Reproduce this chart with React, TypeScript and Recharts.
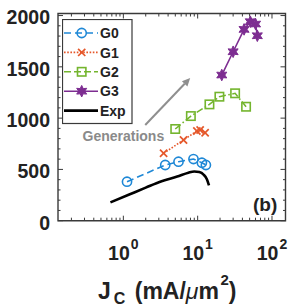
import React from 'react';
import {
  ComposedChart,
  Line,
  XAxis,
  YAxis,
  ReferenceArea,
  ReferenceLine,
  ReferenceDot,
  Legend,
} from 'recharts';

// ---------- data ----------
const G0_X = [1.12, 3.66, 5.52, 8.78, 11.4, 12.9];
const G0_Y = [380, 543, 575, 601, 565, 543];
const G1_X = [3.48, 6.45, 9.75, 10.8, 12.6];
const G1_Y = [657, 787, 874, 884, 858];
const G2_X = [4.99, 8.1, 14.4, 19.6, 31.9, 44.8];
const G2_Y = [894, 1020, 1134, 1209, 1242, 1111];
const G3_X = [21.1, 30.0, 42.1, 51.1, 60.1, 63.5];
const G3_Y = [1420, 1647, 1865, 1940, 1917, 1803];
const EXP_X = [0.67, 1.2, 2.0, 3.2, 5.3, 7.5, 9.0, 10.5, 12.0, 13.3, 14.2];
const EXP_Y = [179, 255, 322, 382, 430, 468, 480, 474, 450, 405, 345];

const SERIES_NAMES = ['G0', 'G1', 'G2', 'G3', 'Exp'];
const X_MAJOR = [1, 10, 100];
const X_MAJOR_EXP = ['0', '1', '2'];
const X_MINOR = [0.2, 0.3, 0.4, 0.5, 0.6, 0.7, 0.8, 0.9, 2, 3, 4, 5, 6, 7, 8, 9, 20, 30, 40, 50, 60, 70, 80, 90];
const Y_TICKS = [0, 100, 200, 300, 400, 500, 600, 700, 800, 900, 1000, 1100, 1200, 1300, 1400, 1500, 1600, 1700, 1800, 1900, 2000];
const Y_LABELED = [0, 500, 1000, 1500, 2000];
const X_DOMAIN: [number, number] = [0.132, 152];
const Y_DOMAIN: [number, number] = [0, 2020];

const ARROW_START = { x: 1.97, y: 933 };
const ARROW_END = { x: 7.93, y: 1391 };
const GEN_LABEL = { x: 1.0, y: 826, text: 'Generations' };
const PANEL_LABEL = '(b)';

const toPts = (xs: number[], ys: number[]) => xs.map((x, i) => ({ x, y: ys[i] }));
const g0 = toPts(G0_X, G0_Y);
const g1 = toPts(G1_X, G1_Y);
const g2 = toPts(G2_X, G2_Y);
const g3 = toPts(G3_X, G3_Y);
const exp = toPts(EXP_X, EXP_Y);

// ---------- layout ----------
const W = 291;
const H = 306;
const PLOT_LEFT = 58;
const PLOT_RIGHT = 285.5;
const PLOT_TOP = 13.5;
const PLOT_BOTTOM = 220.7;
const FONT = '"Liberation Sans", Arial, Helvetica, sans-serif';

const BLUE = '#1f88d6';
const ORANGE = '#e5572a';
const GREEN = '#74b52e';
const PURPLE = '#7d2d91';
const FRAME = '#3a3a3a';
const TEXT = '#222';

// ---------- markers ----------
const circleM = (cx: number, cy: number, key?: any) => (
  <circle key={key} cx={cx} cy={cy} r={4.6} fill="none" stroke={BLUE} strokeWidth={1.6} />
);
const crossM = (cx: number, cy: number, key?: any) => (
  <g key={key} stroke={ORANGE} strokeWidth={1.7}>
    <line x1={cx - 3.6} y1={cy - 3.6} x2={cx + 3.6} y2={cy + 3.6} />
    <line x1={cx - 3.6} y1={cy + 3.6} x2={cx + 3.6} y2={cy - 3.6} />
  </g>
);
const squareM = (cx: number, cy: number, key?: any) => (
  <rect key={key} x={cx - 4.2} y={cy - 4.2} width={8.4} height={8.4} fill="none" stroke={GREEN} strokeWidth={1.6} />
);
const starM = (cx: number, cy: number, key?: any) => {
  const pts: string[] = [];
  for (let i = 0; i < 12; i++) {
    const r = i % 2 === 0 ? 5.8 : 3.0;
    const a = (Math.PI / 6) * i - Math.PI / 2;
    pts.push(`${cx + r * Math.cos(a)},${cy + r * Math.sin(a)}`);
  }
  return <polygon key={key} points={pts.join(' ')} fill={PURPLE} stroke={PURPLE} strokeWidth={1} />;
};

const dotFn = (m: (cx: number, cy: number, key?: any) => React.ReactElement) => (p: any) => {
  if (p.cx == null || p.cy == null) return <g key={p.index} />;
  return m(p.cx, p.cy, `d-${p.index}`);
};

// ---------- ticks ----------
const XTick = (p: any) => {
  const v = p.payload?.value;
  const x = p.x;
  const mi = X_MAJOR.indexOf(v);
  const major = mi >= 0;
  const len = major ? 5 : 3;
  return (
    <g>
      <line x1={x} x2={x} y1={PLOT_BOTTOM} y2={PLOT_BOTTOM - len} stroke={FRAME} strokeWidth={1} />
      <line x1={x} x2={x} y1={PLOT_TOP} y2={PLOT_TOP + len} stroke={FRAME} strokeWidth={1} />
      {major && (
        <text x={x} y={259.5} textAnchor="middle" fontFamily={FONT} fontWeight="bold" fill={TEXT} fontSize={19.5}>
          <tspan>10</tspan>
          <tspan fontSize={14} dy={-10.5} dx={1}>{X_MAJOR_EXP[mi]}</tspan>
        </text>
      )}
    </g>
  );
};

const YTick = (p: any) => {
  const v = p.payload?.value;
  const y = p.y;
  const major = Y_LABELED.includes(v);
  const len = major ? 5 : 2.5;
  return (
    <g>
      <line x1={PLOT_LEFT} x2={PLOT_LEFT + len} y1={y} y2={y} stroke={FRAME} strokeWidth={1} />
      <line x1={PLOT_RIGHT} x2={PLOT_RIGHT - len} y1={y} y2={y} stroke={FRAME} strokeWidth={1} />
      {major && (
        <text x={PLOT_LEFT - 8} y={y + 8.8} textAnchor="end" fontFamily={FONT} fontWeight="bold" fill={TEXT} fontSize={19.5}>
          {v}
        </text>
      )}
    </g>
  );
};

const XLabel = () => (
  <text x={98} y={298.5} fontFamily={FONT} fontWeight="bold" fill={TEXT} fontSize={23}>
    <tspan>J</tspan>
    <tspan fontSize={16} dx={3} dy={5}>C</tspan>
    <tspan dx={3} dy={-5}> (mA/</tspan>
    <tspan fontStyle="italic" fontWeight="normal">μ</tspan>
    <tspan>m</tspan>
    <tspan fontSize={15} dx={1.5} dy={-14}>2</tspan>
    <tspan dy={14}>)</tspan>
  </text>
);

// ---------- legend ----------
const LEGEND_ITEMS = [
  { name: SERIES_NAMES[0], color: BLUE, dash: '7 4', marker: circleM, w: 1.6 },
  { name: SERIES_NAMES[1], color: ORANGE, dash: '1.6 1.6', marker: crossM, w: 1.6 },
  { name: SERIES_NAMES[2], color: GREEN, dash: '7 3', marker: squareM, w: 1.6 },
  { name: SERIES_NAMES[3], color: PURPLE, dash: undefined, marker: starM, w: 1.6 },
  { name: SERIES_NAMES[4], color: '#000', dash: undefined, marker: null, w: 2.6 },
];

const renderLegend = () => (
  <svg width={71} height={106} style={{ display: 'block' }}>
    <rect x={0.5} y={0.5} width={69.5} height={104} fill="#fff" stroke={FRAME} strokeWidth={1.2} />
    {LEGEND_ITEMS.map((it, i) => {
      const cy = 14 + i * 19.4;
      return (
        <g key={it.name}>
          <line x1={2} x2={36} y1={cy} y2={cy} stroke={it.color} strokeWidth={it.w} strokeDasharray={it.dash} />
          {it.marker && it.marker(19.7, cy)}
          <text x={38} y={cy + 5.2} fontFamily={FONT} fontWeight="bold" fontSize={14} fill={TEXT}>
            {it.name}
          </text>
        </g>
      );
    })}
  </svg>
);

// ---------- arrow ----------
const ArrowShape = (p: any) => {
  const { x1, y1, x2, y2 } = p;
  if ([x1, y1, x2, y2].some((v) => v == null || isNaN(v))) return <g />;
  const ang = Math.atan2(y2 - y1, x2 - x1);
  const hl = 8;
  const hw = 3.8;
  const bx = x2 - hl * Math.cos(ang);
  const by = y2 - hl * Math.sin(ang);
  const px = -Math.sin(ang);
  const py = Math.cos(ang);
  return (
    <g>
      <line x1={x1} y1={y1} x2={bx} y2={by} stroke="#8f8f8f" strokeWidth={2} />
      <polygon
        points={`${x2},${y2} ${bx + hw * px},${by + hw * py} ${bx - hw * px},${by - hw * py}`}
        fill="#8f8f8f"
      />
    </g>
  );
};

const GenText = (p: any) => (
  <text x={p.cx} y={p.cy + 5} textAnchor="middle" fontFamily={FONT} fontWeight="bold" fontSize={14} fill="#8a8a8a">
    {GEN_LABEL.text}
  </text>
);

export default function App() {
  return (
    <div style={{ position: 'absolute', left: 0, top: 0, width: W, height: H, background: '#fff' }}>
      <ComposedChart
        width={W}
        height={H}
        margin={{ top: PLOT_TOP, right: W - PLOT_RIGHT, left: 0, bottom: 0 }}
      >
        <XAxis
          dataKey="x"
          type="number"
          scale="log"
          domain={X_DOMAIN}
          allowDataOverflow
          ticks={[...X_MAJOR, ...X_MINOR]}
          interval={0}
          height={H - PLOT_BOTTOM}
          tickSize={0}
          tickMargin={0}
          axisLine={false}
          tickLine={false}
          tick={<XTick />}
          label={<XLabel />}
        />
        <YAxis
          dataKey="y"
          type="number"
          domain={Y_DOMAIN}
          allowDataOverflow
          ticks={Y_TICKS}
          interval={0}
          width={PLOT_LEFT}
          tickSize={0}
          tickMargin={0}
          axisLine={false}
          tickLine={false}
          tick={<YTick />}
        />
        <ReferenceArea
          x1={X_DOMAIN[0]}
          x2={X_DOMAIN[1]}
          y1={Y_DOMAIN[0]}
          y2={Y_DOMAIN[1]}
          fill="none"
          fillOpacity={0}
          stroke={FRAME}
          strokeWidth={1.4}
          ifOverflow="extendDomain"
        />
        <ReferenceLine segment={[ARROW_START, ARROW_END]} shape={<ArrowShape />} ifOverflow="visible" />
        <ReferenceDot x={GEN_LABEL.x} y={GEN_LABEL.y} r={0} shape={<GenText />} ifOverflow="visible" />
        <Line
          data={exp}
          dataKey="y"
          name="Exp"
          type="monotone"
          stroke="#000"
          strokeWidth={2.6}
          dot={false}
          isAnimationActive={false}
        />
        <Line
          data={g0}
          dataKey="y"
          name="G0"
          type="linear"
          stroke={BLUE}
          strokeWidth={1.6}
          strokeDasharray="7 4"
          dot={dotFn(circleM)}
          isAnimationActive={false}
        />
        <Line
          data={g1}
          dataKey="y"
          name="G1"
          type="linear"
          stroke={ORANGE}
          strokeWidth={1.6}
          strokeDasharray="1.6 1.6"
          dot={dotFn(crossM)}
          isAnimationActive={false}
        />
        <Line
          data={g2}
          dataKey="y"
          name="G2"
          type="linear"
          stroke={GREEN}
          strokeWidth={1.6}
          strokeDasharray="7 2.5 1.6 2.5"
          dot={dotFn(squareM)}
          isAnimationActive={false}
        />
        <Line
          data={g3}
          dataKey="y"
          name="G3"
          type="linear"
          stroke={PURPLE}
          strokeWidth={1.6}
          dot={dotFn(starM)}
          isAnimationActive={false}
        />
        <text x={253} y={210.5} fontFamily={FONT} fontWeight="bold" fontSize={19} fill={TEXT}>
          {PANEL_LABEL}
        </text>
        <Legend
          layout="vertical"
          align="center"
          verticalAlign="middle"
          content={renderLegend}
          wrapperStyle={{ position: 'absolute', left: 62, top: 19, width: 71, height: 106, margin: 0, padding: 0 }}
        />
      </ComposedChart>
    </div>
  );
}
